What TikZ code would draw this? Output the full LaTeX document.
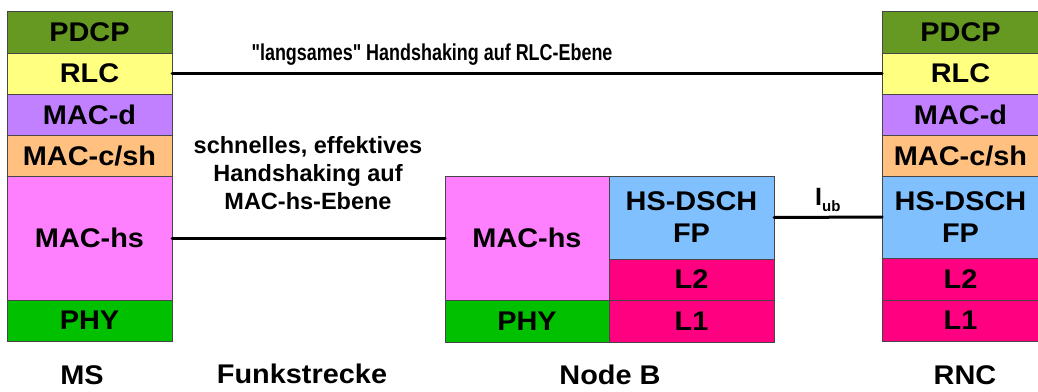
\documentclass[tikz,border=0pt]{standalone}
\usepackage{fontspec}
\setmainfont{Liberation Sans}
\newfontfamily\narrowfont{Liberation Sans}[FakeStretch=0.78]
\newfontfamily\widefont{Liberation Sans}[FakeStretch=1.07]
\definecolor{cpdcp}{RGB}{102,153,34}
\definecolor{crlc}{RGB}{255,255,128}
\definecolor{cmacd}{RGB}{192,128,255}
\definecolor{cmacc}{RGB}{255,192,128}
\definecolor{cmachs}{RGB}{255,128,255}
\definecolor{cphy}{RGB}{0,192,0}
\definecolor{cfp}{RGB}{128,192,255}
\definecolor{cl}{RGB}{255,0,128}
\definecolor{cborder}{RGB}{70,70,70}
\tikzset{
  layer/.style={draw=cborder, line width=1pt, inner sep=0pt, outer sep=0pt, align=center},
  lbl/.style={inner sep=0pt, align=center, font=\widefont\fontsize{27}{32}\selectfont\bfseries},
  link/.style={line width=3pt, black, line cap=round},
}
\newcommand{\lay}[6]{% name, x1, y1, x2, y2, fill
  \node[layer, fill=#6, minimum width={(#4-#2)*1pt}, minimum height={(#5-#3)*1pt}]
    (#1) at ({(#2+#4)/2},{(#3+#5)/2}) {};}
\begin{document}
\begin{tikzpicture}[x=1pt,y=-1pt]
\useasboundingbox (0,0) rectangle (1038,391);
% MS stack
\lay{msPDCP}{7}{11}{172}{53}{cpdcp}
\lay{msRLC}{7}{53}{172}{94}{crlc}
\lay{msMACd}{7}{94}{172}{135}{cmacd}
\lay{msMACc}{7}{135}{172}{176}{cmacc}
\lay{msMAChs}{7}{176}{172}{300}{cmachs}
\lay{msPHY}{7}{300}{172}{341}{cphy}
\node[lbl] at (msPDCP) {PDCP};
\node[lbl] at (msRLC) {RLC};
\node[lbl] at (msMACd) {MAC-d};
\node[lbl] at (msMACc) {MAC-c/sh};
\node[lbl] at (msMAChs) {MAC-hs};
\node[lbl] at (msPHY) {PHY};
% Node B
\lay{nbMAChs}{445}{176}{609}{300}{cmachs}
\lay{nbPHY}{445}{300}{609}{342}{cphy}
\lay{nbFP}{609}{176}{774}{259}{cfp}
\lay{nbL2}{609}{259}{774}{300}{cl}
\lay{nbL1}{609}{300}{774}{342}{cl}
\node[lbl] at (nbMAChs) {MAC-hs};
\node[lbl] at (nbPHY) {PHY};
\node[lbl] at (nbFP) {HS-DSCH\\FP};
\node[lbl] at (nbL2) {L2};
\node[lbl] at (nbL1) {L1};
% RNC stack
\lay{rPDCP}{882}{11}{1039}{53}{cpdcp}
\lay{rRLC}{882}{53}{1039}{94}{crlc}
\lay{rMACd}{882}{94}{1039}{135}{cmacd}
\lay{rMACc}{882}{135}{1039}{176}{cmacc}
\lay{rFP}{882}{176}{1039}{258}{cfp}
\lay{rL2}{882}{258}{1039}{300}{cl}
\lay{rL1}{882}{300}{1039}{341}{cl}
\node[lbl] at (rPDCP) {PDCP};
\node[lbl] at (rRLC) {RLC};
\node[lbl] at (rMACd) {MAC-d};
\node[lbl] at (rMACc) {MAC-c/sh};
\node[lbl] at (rFP) {HS-DSCH\\FP};
\node[lbl] at (rL2) {L2};
\node[lbl] at (rL1) {L1};
% connectors
\draw[link] (msRLC.east) -- (rRLC.west);
\draw[link] (msMAChs.east) -- (nbMAChs.west);
\draw[link] (nbFP.east) -- (rFP.west);
% connector labels
\node[inner sep=0pt, font=\narrowfont\fontsize{23}{26}\selectfont\bfseries] (tRLC) at (432,55) {"langsames" Handshaking auf RLC-Ebene};
\node[inner sep=0pt, align=center, font=\fontsize{23.5}{28}\selectfont\bfseries] (tMAC) at (308,173) {schnelles, effektives\\Handshaking auf\\MAC-hs-Ebene};
\node[inner sep=0pt, anchor=base west] (tIub) at (815,205) {\fontsize{25}{25}\selectfont\bfseries I\raisebox{-6pt}{\fontsize{15}{15}\selectfont ub}};
% bottom labels
\node[lbl] (lMS) at (82,375) {MS};
\node[lbl] (lFunk) at (302,374) {Funkstrecke};
\node[lbl] (lNB) at (610,375) {Node B};
\node[lbl] (lRNC) at (965,375) {RNC};
\end{tikzpicture}
\end{document}
